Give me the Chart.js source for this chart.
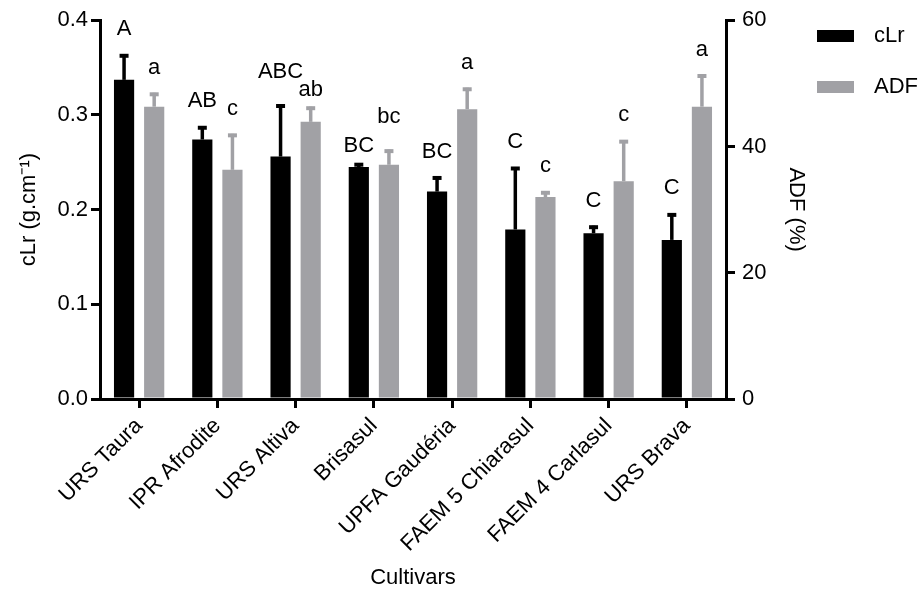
<!DOCTYPE html>
<html>
<head>
<meta charset="utf-8">
<script src="https://cdn.jsdelivr.net/npm/chart.js"></script>
<style>
  html, body { margin: 0; padding: 0; background: #fff; }
  #wrap { width: 923px; height: 595px; }
</style>
</head>
<body>
<div id="wrap"><canvas id="fiberChart"></canvas></div>
<script>
// Data
const cultivars = ["URS Taura", "IPR Afrodite", "URS Altiva", "Brisasul",
  "UPFA Gaudéria", "FAEM 5 Chiarasul", "FAEM 4 Carlasul", "URS Brava"];
const clrValues = [0.337, 0.274, 0.256, 0.245, 0.219, 0.179, 0.175, 0.168];
const clrErrors = [0.027, 0.014, 0.055, 0.004, 0.016, 0.066, 0.008, 0.028];
const clrLetters = ["A", "AB", "ABC", "BC", "BC", "C", "C", "C"];
const adfValues = [46.3, 36.3, 43.9, 37.1, 45.9, 32.0, 34.5, 46.3];
const adfErrors = [2.2, 5.7, 2.4, 2.4, 3.4, 0.9, 6.5, 5.1];
const adfLetters = ["a", "c", "ab", "bc", "a", "c", "c", "a"];
const clrTicks = [0, 0.1, 0.2, 0.3, 0.4];
const adfTicks = [0, 20, 40, 60];

const BLACK = "#000000";
const GREY = "#a1a1a5";
const FONT = "'Liberation Sans', Arial, sans-serif";

// error bars + significance letters
const errorBarPlugin = {
  id: "errorBars",
  afterDatasetsDraw(chart) {
    const ctx = chart.ctx;
    ctx.save();
    ctx.font = "22px " + FONT;
    const labels = [];
    chart.data.datasets.forEach((ds, di) => {
      const meta = chart.getDatasetMeta(di);
      const scale = chart.scales[ds.yAxisID];
      meta.data.forEach((bar, i) => {
        const top = scale.getPixelForValue(ds.data[i] + ds.errors[i]);
        ctx.strokeStyle = ds.backgroundColor;
        ctx.lineWidth = 3.5;
        ctx.beginPath();
        ctx.moveTo(bar.x, bar.y);
        ctx.lineTo(bar.x, top);
        ctx.stroke();
        ctx.lineWidth = 4;
        ctx.beginPath();
        ctx.moveTo(bar.x - 4.5, top + 1.5);
        ctx.lineTo(bar.x + 4.5, top + 1.5);
        ctx.stroke();
        labels[i] = labels[i] || [];
        labels[i].push({ text: ds.letters[i], x: bar.x, y: top - 25,
          w: ctx.measureText(ds.letters[i]).width });
      });
    });
    // keep the two letters of a cultivar from overlapping
    labels.forEach(([a, b]) => {
      const gap = (b.x - b.w / 2) - (a.x + a.w / 2);
      if (gap < 4 && Math.abs(a.y - b.y) < 22) {
        const hi = a.y <= b.y ? a : b, lo = hi === a ? b : a;
        hi.y -= 8;
        lo.y += 8;
      }
    });
    ctx.fillStyle = BLACK;
    ctx.textAlign = "center";
    ctx.textBaseline = "middle";
    labels.flat().forEach(l => ctx.fillText(l.text, l.x, l.y));
    ctx.restore();
  },
  afterDraw(chart) {
    // legend on the right
    const ctx = chart.ctx;
    ctx.save();
    ctx.font = "22px " + FONT;
    ctx.textBaseline = "middle";
    chart.data.datasets.forEach((ds, di) => {
      const y = 36 + di * 51;
      ctx.fillStyle = ds.backgroundColor;
      ctx.fillRect(817, y - 6, 37, 12);
      ctx.fillStyle = BLACK;
      ctx.fillText(ds.label, 874, y);
    });
    ctx.restore();
  }
};

const axisStyle = {
  border: { display: true, color: BLACK, width: 3 },
  grid: { drawOnChartArea: false, color: BLACK, lineWidth: 3, tickWidth: 3, tickLength: 9 }
};

new Chart(document.getElementById("fiberChart"), {
  type: "bar",
  data: {
    labels: cultivars,
    datasets: [
      { label: "cLr", data: clrValues, errors: clrErrors, letters: clrLetters,
        backgroundColor: BLACK, yAxisID: "y" },
      { label: "ADF", data: adfValues, errors: adfErrors, letters: adfLetters,
        backgroundColor: GREY, yAxisID: "y1" }
    ]
  },
  options: {
    responsive: true,
    maintainAspectRatio: false,
    animation: false,
    categoryPercentage: 0.77,
    barPercentage: 0.67,
    layout: { padding: { left: 12, right: 110, top: 16, bottom: 0 } },
    plugins: { legend: { display: false }, tooltip: { enabled: false } },
    scales: {
      x: {
        ...axisStyle,
        grid: { ...axisStyle.grid, offset: false },
        ticks: { color: BLACK, font: { family: FONT, size: 22 }, maxRotation: 45, minRotation: 45, padding: 5 },
        title: { display: true, text: "Cultivars", color: BLACK, font: { family: FONT, size: 22 } },
        afterFit(scale) { scale.height = 196; }
      },
      y: {
        ...axisStyle,
        position: "left",
        min: 0, max: 0.4,
        afterBuildTicks(scale) { scale.ticks = clrTicks.map(v => ({ value: v })); },
        ticks: { color: BLACK, font: { family: FONT, size: 22 }, padding: 3,
          callback: v => v.toFixed(1) },
        title: { display: true, text: "cLr (g.cm\u207B\u00B9)", color: BLACK, font: { family: FONT, size: 22 } },
        afterFit(scale) { scale.width = 88; }
      },
      y1: {
        ...axisStyle,
        position: "right",
        min: 0, max: 60,
        afterBuildTicks(scale) { scale.ticks = adfTicks.map(v => ({ value: v })); },
        ticks: { color: BLACK, font: { family: FONT, size: 22 }, padding: 7 },
        title: { display: true, text: "ADF (%)", color: BLACK, font: { family: FONT, size: 22 } },
        afterFit(scale) { scale.width = 87; }
      }
    }
  },
  plugins: [errorBarPlugin]
});
</script>
</body>
</html>
